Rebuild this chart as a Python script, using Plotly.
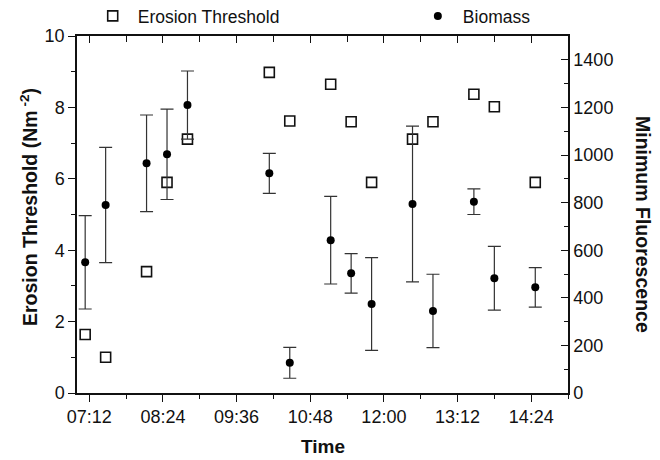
import plotly.graph_objects as go

day = "2024-01-01 "
erosion_times = ["07:08", "07:28", "08:08", "08:28", "08:48", "10:08", "10:28", "11:08",
                 "11:28", "11:48", "12:28", "12:48", "13:28", "13:48", "14:28"]
erosion_values = [1.64, 1.0, 3.40, 5.90, 7.11, 8.98, 7.62, 8.65, 7.60, 5.90, 7.11, 7.60, 8.37, 8.02, 5.90]

biomass_times = ["07:08", "07:28", "08:08", "08:28", "08:48", "10:08", "10:28", "11:08",
                 "11:28", "11:48", "12:28", "12:48", "13:28", "13:48", "14:28"]
biomass_values = [549, 790, 965, 1003, 1210, 923, 127, 642, 503, 374, 794, 345, 804, 482, 444]
biomass_errors = [196, 242, 203, 190, 143, 84, 65, 184, 83, 195, 327, 154, 54, 134, 83]

x_range = [day + "07:00", day + "15:00"]
tick_start = day + "07:12"

FONT = "Liberation Sans, Arial, sans-serif"
INK = "#111"

fig = go.Figure()
fig.add_trace(go.Scatter(
    x=[day + t for t in erosion_times], y=erosion_values, mode="markers",
    name="Erosion Threshold", legend="legend",
    marker=dict(symbol="square-open", size=10, color=INK, line=dict(width=1.6, color=INK)),
    yaxis="y", xaxis="x",
))
fig.add_trace(go.Scatter(
    x=[day + t for t in biomass_times], y=biomass_values, mode="markers",
    name="Biomass", legend="legend2",
    marker=dict(symbol="circle", size=8, color="#000"),
    error_y=dict(type="data", array=biomass_errors, visible=True, color="#333", thickness=1.2, width=6.5),
    yaxis="y2", xaxis="x",
))
# invisible carrier so the top (mirror) axis is drawn
fig.add_trace(go.Scatter(
    x=[day + t for t in erosion_times], y=erosion_values, mode="markers",
    marker=dict(opacity=0), showlegend=False, hoverinfo="skip",
    xaxis="x2", yaxis="y",
))

axis_common = dict(showline=True, linecolor=INK, linewidth=1.5, showgrid=False, zeroline=False,
                   tickwidth=1.2, tickcolor=INK)

fig.update_layout(
    width=660, height=460,
    margin=dict(l=77, r=92, t=36, b=67, autoexpand=False),
    paper_bgcolor="white", plot_bgcolor="white",
    font=dict(family=FONT, size=18, color=INK),
    showlegend=True,
    legend=dict(orientation="h", x=0.0218, y=1.056, xanchor="left", yanchor="middle",
                itemwidth=40, font=dict(size=17.5), bgcolor="rgba(0,0,0,0)"),
    legend2=dict(orientation="h", x=0.684, y=1.056, xanchor="left", yanchor="middle",
                 itemwidth=40, font=dict(size=17.5), bgcolor="rgba(0,0,0,0)"),
    xaxis=dict(type="date", range=x_range, tick0=tick_start, dtick=72 * 60000,
               tickformat="%H:%M", ticks="outside", ticklen=7,
               minor=dict(dtick=36 * 60000, tick0=tick_start, ticks="outside", ticklen=4,
                          tickcolor=INK, tickwidth=1.2, showgrid=False),
               tickfont=dict(size=18), anchor="y", **axis_common),
    xaxis2=dict(type="date", range=x_range, tick0=tick_start, dtick=72 * 60000,
                overlaying="x", side="top", anchor="y", showticklabels=False,
                ticks="inside", ticklen=7,
                minor=dict(dtick=36 * 60000, tick0=tick_start, ticks="inside", ticklen=6,
                           tickcolor=INK, tickwidth=1.2, showgrid=False),
                **axis_common),
    yaxis=dict(range=[0, 10], dtick=2, ticks="outside", ticklen=7,
               minor=dict(dtick=1, ticks="outside", ticklen=4, tickcolor=INK, tickwidth=1.2,
                          showgrid=False),
               tickfont=dict(size=18), **axis_common),
    yaxis2=dict(range=[0, 1500], dtick=200, overlaying="y", side="right", anchor="x",
                ticks="inside", ticklen=7,
                minor=dict(dtick=100, ticks="inside", ticklen=4, tickcolor=INK, tickwidth=1.2,
                           showgrid=False),
                tickfont=dict(size=18), **axis_common),
    annotations=[
        dict(text="<b>Erosion Threshold (Nm<sup> -2</sup>)</b>", xref="paper", yref="paper",
             x=-0.0978, y=0.521, xanchor="center", yanchor="middle", textangle=-90,
             showarrow=False, font=dict(size=19.5)),
        dict(text="<b>Minimum Fluorescence</b>", xref="paper", yref="paper",
             x=1.1527, y=0.4706, xanchor="center", yanchor="middle", textangle=90,
             showarrow=False, font=dict(size=19.5)),
        dict(text="<b>Time</b>", xref="paper", yref="paper",
             x=0.5, y=-0.151, xanchor="center", yanchor="middle",
             showarrow=False, font=dict(size=19)),
    ],
)

fig.write_html("out.html", config={"displayModeBar": False},
               post_script="document.body.style.margin='0';document.body.style.padding='0';")
